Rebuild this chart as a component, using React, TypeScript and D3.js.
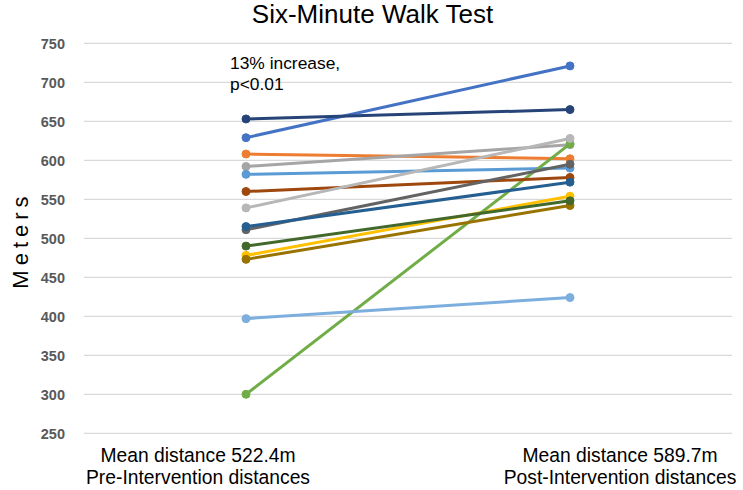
import React from "react";
import * as d3 from "d3";

const categories = ["Pre", "Post"];
const preValues = [629, 608, 592, 478, 582, 300, 653, 560, 511, 473, 515, 490, 397, 539];
const postValues = [721, 602, 620, 554, 590, 621, 665, 578, 595, 542, 572, 548, 424, 628];
const seriesColors = [
  "#4472C4", "#ED7D31", "#A5A5A5", "#FFC000", "#5B9BD5", "#70AD47",
  "#264478", "#9E480E", "#636363", "#997300", "#255E91", "#43682B",
  "#7CAFDD", "#B7B7B7",
];
const yTicks = [250, 300, 350, 400, 450, 500, 550, 600, 650, 700, 750];
const xLabels = [
  ["Mean distance 522.4m", "Pre-Intervention distances"],
  ["Mean distance 589.7m", "Post-Intervention distances"],
];
const title = "Six-Minute Walk Test";
const annotation = ["13% increase,", "p<0.01"];
const yTitle = "Meters";

const W = 743;
const H = 490;
const left = 84;
const right = 732;
const top = 43.3;
const bottom = 433.3;
const font = "'Liberation Sans', Arial, sans-serif";

export default function App() {
  const y = d3.scaleLinear().domain([250, 750]).range([bottom, top]);
  const x = d3.scalePoint<string>().domain(categories).range([left, right]).padding(0.5);
  const line = d3
    .line<[string, number]>()
    .x((d) => x(d[0]) as number)
    .y((d) => y(d[1]));
  const series = preValues.map((p, i) => ({
    color: seriesColors[i],
    pts: [
      [categories[0], p],
      [categories[1], postValues[i]],
    ] as [string, number][],
  }));
  const labelCenters = [198, 620];

  return (
    <svg
      width={W}
      height={H}
      style={{ position: "absolute", left: 0, top: 0, background: "#fff" }}
      fontFamily={font}
    >
      <rect width={W} height={H} fill="#fff" />
      {yTicks.map((t) => (
        <g key={t}>
          <line x1={left} x2={right} y1={y(t)} y2={y(t)} stroke="#d9d9d9" strokeWidth={1.3} />
          <text
            x={65}
            y={y(t)}
            dy="0.36em"
            textAnchor="end"
            fontSize={14.5}
            fontWeight="bold"
            fill="#595959"
          >
            {t}
          </text>
        </g>
      ))}
      <text x={372.5} y={23} textAnchor="middle" fontSize={26} fill="#000">
        {title}
      </text>
      <text
        transform={`translate(28,240) rotate(-90)`}
        textAnchor="middle"
        fontSize={22}
        letterSpacing={5}
        fill="#000"
      >
        {yTitle}
      </text>
      {series.map((s, i) => (
        <g key={i}>
          <path d={line(s.pts) || ""} fill="none" stroke={s.color} strokeWidth={3} />
          {s.pts.map((p, j) => (
            <circle key={j} cx={x(p[0])} cy={y(p[1])} r={4} fill={s.color} stroke={s.color} strokeWidth={1} />
          ))}
        </g>
      ))}
      {annotation.map((a, i) => (
        <text key={i} x={230} y={69 + i * 21} fontSize={17.4} fill="#000">
          {a}
        </text>
      ))}
      {xLabels.map((lines, i) =>
        lines.map((l, j) => (
          <text
            key={`${i}-${j}`}
            x={labelCenters[i]}
            y={461.5 + j * 22}
            textAnchor="middle"
            fontSize={19.3}
            fill="#000"
          >
            {l}
          </text>
        ))
      )}
    </svg>
  );
}
